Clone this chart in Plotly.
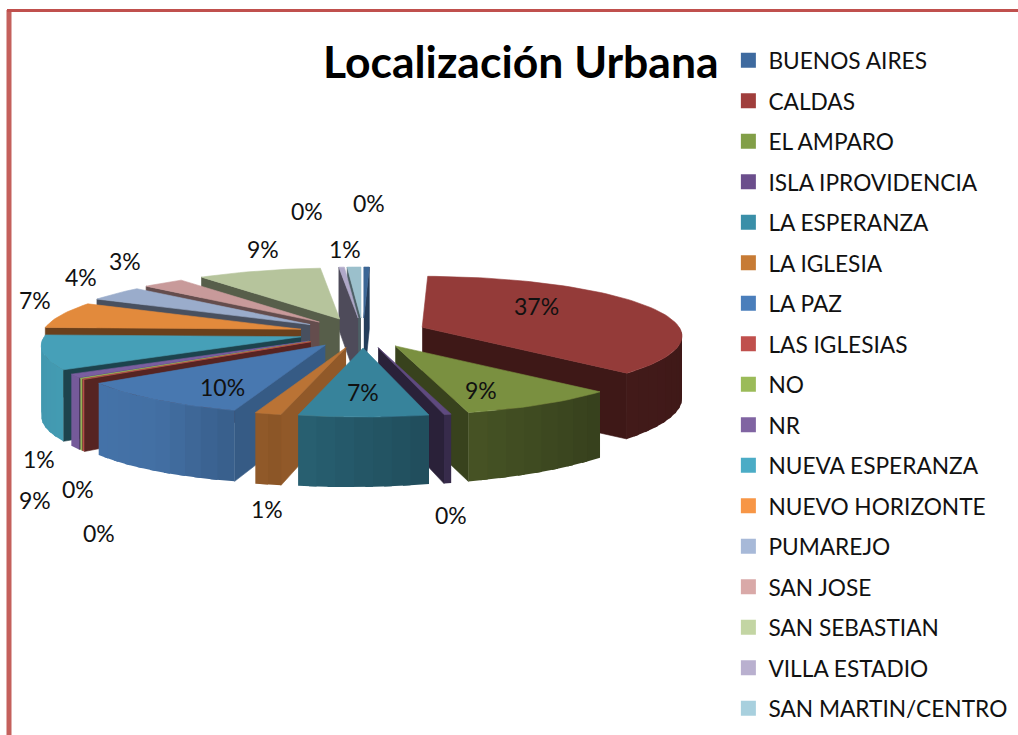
import numpy as np
import plotly.graph_objects as go

TITLE = "Localización Urbana"
categories = ["BUENOS AIRES", "CALDAS", "EL AMPARO", "ISLA IPROVIDENCIA", "LA ESPERANZA", "LA IGLESIA",
              "LA PAZ", "LAS IGLESIAS", "NO", "NR", "NUEVA ESPERANZA", "NUEVO HORIZONTE", "PUMAREJO",
              "SAN JOSE", "SAN SEBASTIAN", "VILLA ESTADIO", "SAN MARTIN/CENTRO"]
values = [0.4, 36.6, 8.8, 0.4, 7.1, 1.45, 10, 0.2, 0.2, 1, 9, 7, 4, 3, 9, 0.4, 1]

legend_colors = ["#3E6A9F", "#A03E3C", "#829F48", "#6B4E8C", "#3A8FA8", "#C77B35", "#4A7EBB", "#C0504D",
                 "#9BBB59", "#8064A2", "#4BACC6", "#F79646", "#A7B9D8", "#D9A9A8", "#C3D5A3", "#B9B0CF", "#A8D0DE"]
top_colors = ["#3C6796", "#943B39", "#7A9040", "#5F4A80", "#37839B", "#BA7335", "#4878B0", "#C0504D",
              "#9BBB59", "#7A5EA0", "#46A0B8", "#E28A3C", "#9AACCB", "#C89A9A", "#B6C49C", "#AFA8C8", "#9BC0CC"]
face_shade = [0.6, 0.42, 0.46, 0.45, 0.6, 0.78, 0.76, 0.45, 0.45, 0.6, 0.42, 0.47, 0.47, 0.5, 0.48, 0.45, 0.5]

# projection of the tilted, exploded pie on the page
CX, CY, EX, EY = 363, 333, 64, 15
RX, RY, K = 257, 60, 0.15
label_centres = [(369, 203), (536, 306), (481, 390), (451, 515), (363, 392), (267, 509), (222, 387), (99, 533),
                 (78, 489), (39, 459), (35, 500), (35, 300), (81, 277), (125, 261), (263, 249), (307, 211), (345, 249)]


def hex_shade(c, f):
    return "#%02X%02X%02X" % tuple(int(min(255, int(c[i:i + 2], 16) * f)) for i in (1, 3, 5))


def scale(t):
    return 1 - K * np.cos(np.radians(t))


def height(t):
    return 66 - 4 * np.sin(np.radians(t)) - 4 * np.cos(np.radians(t))


def rim(ax, ay, t):
    t = np.asarray(t, dtype=float)
    s = scale(t)
    return ax + RX * np.sin(np.radians(t)) * s, ay - RY * np.cos(np.radians(t)) * s


def wall_shade(t):
    return float(np.interp(t, [90, 135, 165, 190, 215, 240, 270], [0.42, 0.45, 0.58, 0.72, 0.93, 0.97, 0.95]))


def poly(x, y, color, width=0.6):
    return go.Scatter(x=list(x), y=list(y), mode="lines", fill="toself", fillcolor=color,
                      line=dict(color=color, width=width), hoverinfo="skip", showlegend=False)


fig = go.Figure()

for name, col in zip(categories, legend_colors):
    fig.add_trace(go.Scatter(x=[None], y=[None], mode="markers", name=name, legendgroup=name,
                             marker=dict(symbol="square", size=15, color=col)))

edges = np.cumsum([0] + values) / sum(values) * 360
order = sorted(range(len(values)), key=lambda i: -np.cos(np.radians((edges[i] + edges[i + 1]) / 2)))

for i in order:
    a, b = edges[i], edges[i + 1]
    m = (a + b) / 2
    ax = CX + EX * np.sin(np.radians(m))
    ay = CY - EY * np.cos(np.radians(m))
    top = top_colors[i]

    # the radial face that looks towards the viewer
    edge = b if b < 180 else (a if a > 180 else None)
    if edge is not None:
        px, py = rim(ax, ay, edge)
        fig.add_trace(poly([ax, px, px, ax], [ay, py, py + height(edge), ay + 66],
                           hex_shade(top, face_shade[i])))

    # outer wall, in narrow overlapping strips for the shading
    lo, hi = max(a, 90), min(b, 270)
    if hi > lo:
        cuts = np.linspace(lo, hi, max(2, int((hi - lo) / 4) + 2))
        for u, v in zip(cuts[:-1], cuts[1:]):
            ts = np.linspace(u, min(v + 1.5, hi), 4)
            xs, ys = rim(ax, ay, ts)
            hs = height(ts)
            fig.add_trace(poly(np.r_[xs, xs[::-1]], np.r_[ys, (ys + hs)[::-1]],
                               hex_shade(top, wall_shade((u + v) / 2)), width=0))

    # top face
    ts = np.linspace(a, b, max(3, int((b - a) / 2) + 3))
    xs, ys = rim(ax, ay, ts)
    fig.add_trace(poly(np.r_[ax, xs, ax], np.r_[ay, ys, ay], top))

annotations = [dict(x=x, y=y, xref="x", yref="y", text=f"{round(v)}%", showarrow=False,
                    font=dict(family="Lato", size=23, color="#111111"))
               for v, (x, y) in zip(values, label_centres)]
annotations.append(dict(x=521, y=60, xref="x", yref="y", text=f"<b>{TITLE}</b>", showarrow=False,
                        font=dict(family="Lato", size=44.5, color="#000000")))

fig.update_layout(
    width=1018, height=735, autosize=False, margin=dict(l=0, r=0, t=0, b=0, autoexpand=False),
    paper_bgcolor="white", plot_bgcolor="white",
    xaxis=dict(range=[0, 1018], visible=False, fixedrange=True),
    yaxis=dict(range=[735, 0], visible=False, fixedrange=True),
    annotations=annotations,
    legend=dict(x=0.7155, y=0.947, xanchor="left", yanchor="top", tracegroupgap=8,
                font=dict(family="Lato", size=22.7, color="#111111"), bgcolor="rgba(0,0,0,0)"),
    shapes=[
        dict(type="line", xref="x", yref="y", x0=9, x1=9, y0=10, y1=735, line=dict(color="#C4605C", width=5)),
        dict(type="line", xref="x", yref="y", x0=7, x1=1018, y0=10.5, y1=10.5, line=dict(color="#C0504D", width=3)),
    ],
)
fig.write_html("out.html", config={"displayModeBar": False},
               post_script="document.body.style.margin='0';document.body.style.overflow='hidden';")
